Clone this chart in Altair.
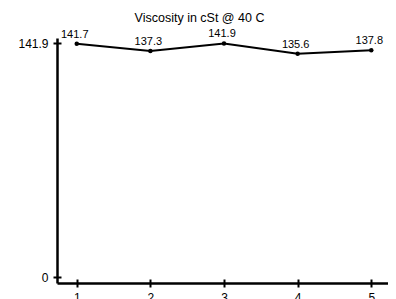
import altair as alt
import pandas as pd

runs = [1, 2, 3, 4, 5]
viscosity = [141.7, 137.3, 141.9, 135.6, 137.8]
x_tick_values = [1, 2, 3, 4, 5]
y_tick_values = [0, 141.9]
title_text = "Viscosity in cSt @ 40 C"

df = pd.DataFrame({"run": runs, "visc": viscosity})
FONT = "Liberation Sans"

xs = alt.Scale(domain=[0.732, 5.227], nice=False, zero=False)
ys = alt.Scale(domain=[-3.4, 145.2], nice=False, zero=False)

base = alt.Chart(df)

x_dom = alt.X("run:Q", scale=xs, axis=alt.Axis(orient="bottom", domain=True, domainColor="black",
                                               domainWidth=2.5, ticks=False, labels=False, grid=False,
                                               title=None))
y_dom = alt.Y("visc:Q", scale=ys, axis=alt.Axis(orient="left", domain=True, domainColor="black",
                                                domainWidth=2.5, ticks=False, labels=False, grid=False,
                                                title=None))

line = base.mark_line(color="black", strokeWidth=2).encode(x=x_dom, y=y_dom)

pts = base.mark_point(filled=True, color="black", size=20, opacity=1).encode(
    x=alt.X("run:Q", scale=xs),
    y=alt.Y("visc:Q", scale=ys),
)

labels = base.mark_text(font=FONT, fontSize=11, baseline="alphabetic", dy=-6, dx=-2,
                        color="black").encode(
    x=alt.X("run:Q", scale=xs),
    y=alt.Y("visc:Q", scale=ys),
    text=alt.Text("visc:Q", format=".1f"),
)

main = alt.layer(line, pts, labels)

tick_layer = base.mark_point(opacity=0).encode(
    x=alt.X("run:Q", scale=xs, axis=alt.Axis(orient="bottom", domain=False, ticks=True, tickSize=8,
                                             tickWidth=2, tickColor="black", offset=-4,
                                             values=x_tick_values, format="d", labelPadding=5,
                                             labelFont=FONT, labelFontSize=12, labelColor="black",
                                             grid=False, title=None)),
    y=alt.Y("visc:Q", scale=ys, axis=alt.Axis(orient="left", domain=False, ticks=True, tickSize=8,
                                              tickWidth=2, tickColor="black", offset=-4,
                                              values=y_tick_values,
                                              labelExpr="datum.value == 0 ? '0' : format(datum.value, '.1f')",
                                              labelPadding=5,
                                              labelFont=FONT, labelFontSize=12, labelColor="black",
                                              grid=False, title=None)),
)

chart = alt.layer(main, tick_layer).resolve_axis(
    x="independent", y="independent"
).properties(
    width=331,
    height=245,
    padding={"left": 49, "top": 30, "right": 0, "bottom": 16},
    autosize=alt.AutoSizeParams(type="none"),
    background="white",
    title=alt.TitleParams(title_text, font=FONT, fontSize=12.5, fontWeight="normal", color="black",
                          anchor="middle", dx=-23),
).configure_view(stroke=None).configure_axis(grid=False)

chart.save("out.html", embed_options={"renderer": "svg", "actions": False})
